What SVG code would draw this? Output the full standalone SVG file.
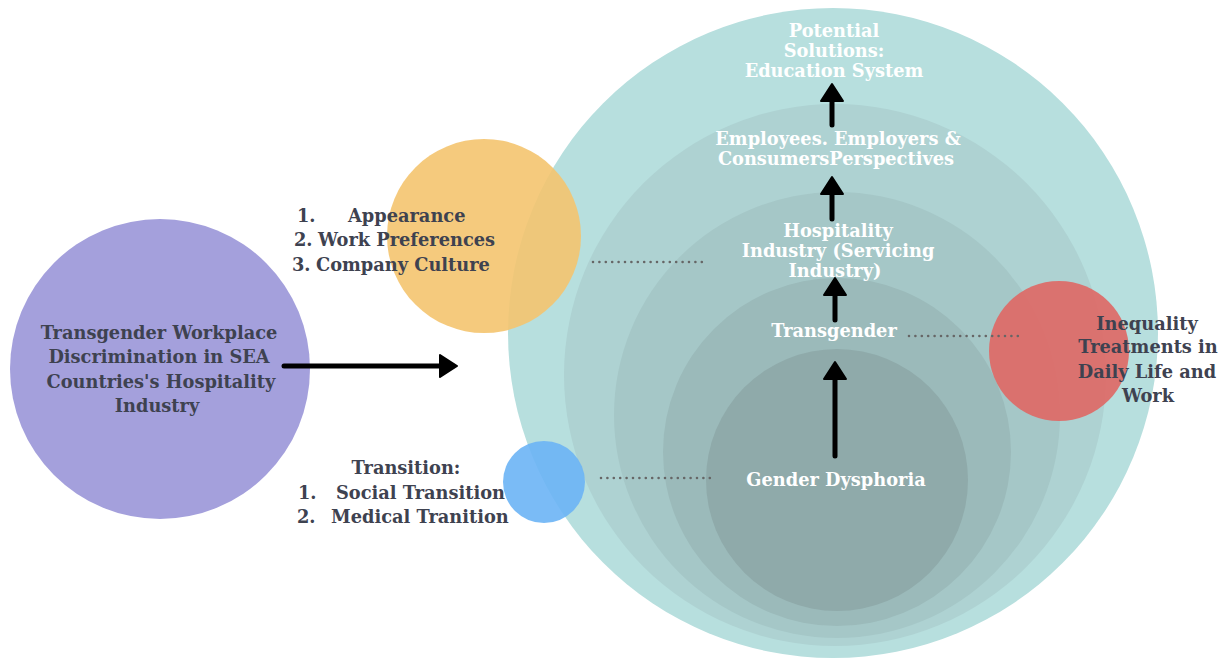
<svg xmlns="http://www.w3.org/2000/svg" width="1232" height="664" viewBox="0 0 1232 664">
<defs>
<style>
.t{font-family:"DejaVu Serif","Liberation Serif",serif;font-weight:bold;font-size:17.8px}
.w{fill:#ffffff}
.d{fill:#3e4250}
.c{text-anchor:middle}
.arr{stroke:#000;stroke-width:5;stroke-linecap:round;fill:none}
.dot{stroke:#666;stroke-width:2.6;stroke-linecap:round;stroke-dasharray:0 6.4;fill:none}
</style>
<marker id="ah" markerUnits="userSpaceOnUse" viewBox="0 0 20 26" markerWidth="20" markerHeight="26" refX="2" refY="13" orient="auto">
<path d="M1,2 L18,13 L1,24 Z" fill="#000" stroke="#000" stroke-width="2" stroke-linejoin="round"/>
</marker>
</defs>
<rect width="1232" height="664" fill="#ffffff"/>

<g id="rings">
<circle cx="833" cy="333" r="325" fill="#b7dfde"/>
<circle cx="835" cy="375" r="271" fill="#aed2d2"/>
<circle cx="837" cy="415" r="223" fill="#a5c7c7"/>
<circle cx="837" cy="452" r="174" fill="#9bbaba"/>
<circle cx="837" cy="480" r="131" fill="#8faaaa"/>
</g>

<g id="purple-node">
<circle cx="160" cy="369" r="150" fill="#a4a0dc"/>
<text class="t d c" x="159" y="339">Transgender Workplace</text>
<text class="t d c" x="159" y="363">Discrimination in SEA</text>
<text class="t d c" x="161" y="388">Countries's Hospitality</text>
<text class="t d c" x="157" y="412">Industry</text>
</g>

<g id="orange-node">
<circle cx="484" cy="236" r="97" fill="#f4c46f" fill-opacity="0.9"/>
<text class="t d" x="297" y="222">1.</text>
<text class="t d" x="348" y="222">Appearance</text>
<text class="t d" x="294" y="246">2.</text>
<text class="t d" x="318" y="246">Work Preferences</text>
<text class="t d" x="292" y="271">3.</text>
<text class="t d" x="316" y="271">Company Culture</text>
</g>

<g id="blue-node">
<circle cx="544" cy="482" r="41" fill="#6cb4f5" fill-opacity="0.9"/>
<text class="t d c" x="406" y="474">Transition:</text>
<text class="t d" x="298" y="499">1.</text>
<text class="t d" x="336" y="499">Social Transition</text>
<text class="t d" x="297" y="523">2.</text>
<text class="t d" x="331" y="523">Medical Tranition</text>
</g>

<g id="red-node">
<circle cx="1059" cy="351" r="70" fill="#de6a67" fill-opacity="0.93"/>
<text class="t d c" x="1147" y="330">Inequality</text>
<text class="t d c" x="1148" y="353">Treatments in</text>
<text class="t d c" x="1147" y="378">Daily Life and</text>
<text class="t d c" x="1148" y="402">Work</text>
</g>

<g id="node-solutions">
<text class="t w c" x="834" y="37">Potential</text>
<text class="t w c" x="834" y="57">Solutions:</text>
<text class="t w c" x="834" y="77">Education System</text>
</g>
<g id="node-perspectives">
<text class="t w c" x="838" y="145">Employees. Employers &amp;</text>
<text class="t w c" x="836" y="165">ConsumersPerspectives</text>
</g>
<g id="node-hospitality">
<text class="t w c" x="838" y="237">Hospitality</text>
<text class="t w c" x="838" y="257">Industry (Servicing</text>
<text class="t w c" x="835" y="277">Industry)</text>
</g>
<g id="node-transgender">
<text class="t w c" x="834" y="337">Transgender</text>
</g>
<g id="node-dysphoria">
<text class="t w c" x="836" y="486">Gender Dysphoria</text>
</g>

<g id="connectors">
<line class="arr" x1="284" y1="366" x2="441" y2="366" marker-end="url(#ah)"/>
<line class="arr" x1="832" y1="125" x2="832" y2="100" marker-end="url(#ah)"/>
<line class="arr" x1="832" y1="219" x2="832" y2="193" marker-end="url(#ah)"/>
<line class="arr" x1="835" y1="320" x2="835" y2="294" marker-end="url(#ah)"/>
<line class="arr" x1="835" y1="456" x2="835" y2="378" marker-end="url(#ah)"/>
<line class="dot" x1="593" y1="262" x2="706" y2="262"/>
<line class="dot" x1="601" y1="478" x2="715" y2="478"/>
<line class="dot" x1="909" y1="336" x2="1023" y2="336"/>
</g>
</svg>
